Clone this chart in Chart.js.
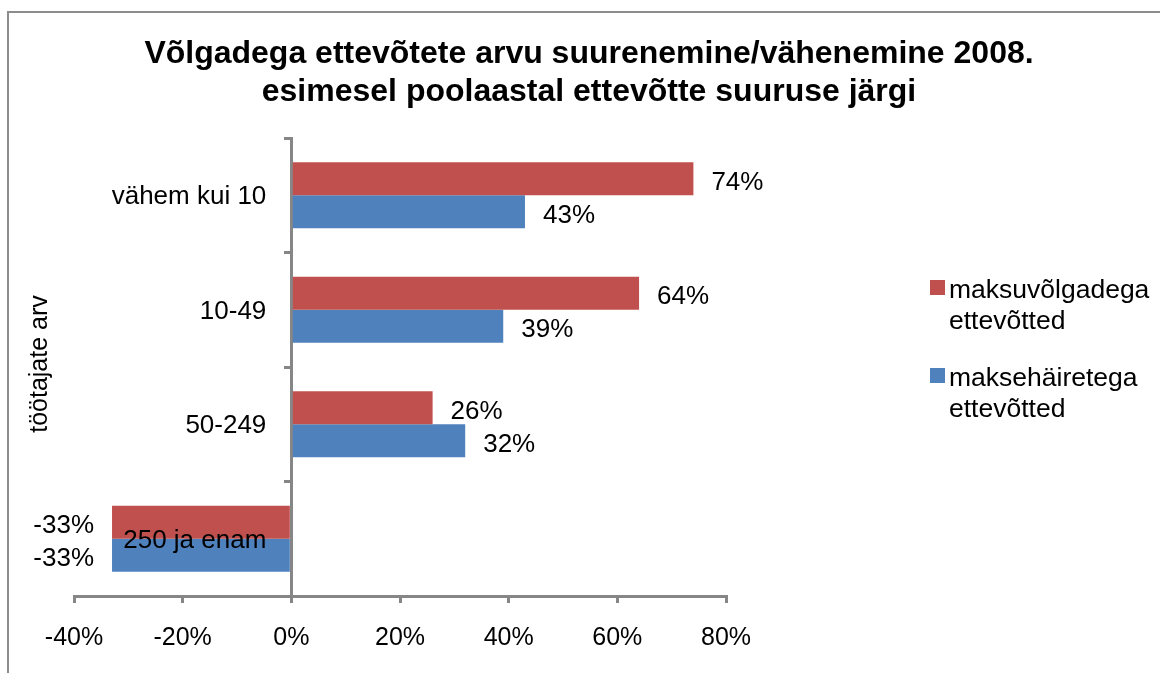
<!DOCTYPE html>
<html>
<head>
    <title>Võlgadega ettevõtete arvu suurenemine/vähenemine</title>
    <script src="https://cdn.jsdelivr.net/npm/chart.js@4.4.0/dist/chart.umd.min.js"></script>
    <style>
        html, body { margin: 0; padding: 0; background: #fff; overflow: hidden; }
        #box {
            position: absolute; left: 7px; top: 11px;
            width: 1160px; height: 660px;
            border-left: 2px solid #8c8c8c; border-top: 2px solid #8c8c8c;
        }
    </style>
</head>
<body>
    <div id="box"><canvas id="chart"></canvas></div>
    <script>
        const categories = ['vähem kui 10', '10-49', '50-249', '250 ja enam'];
        const maksuvolg = [74, 64, 26, -33];    // maksuvõlgadega ettevõtted
        const maksehaire = [43, 39, 32, -33];   // maksehäiretega ettevõtted
        const seriesNames = [['maksuvõlgadega', 'ettevõtted'], ['maksehäiretega', 'ettevõtted']];
        const titleLines = ['Võlgadega ettevõtete arvu suurenemine/vähenemine 2008.', 'esimesel poolaastal ettevõtte suuruse järgi'];
        const axisTitle = 'töötajate arv';

        const RED = '#C0504D';
        const BLUE = '#4F81BD';
        const AXIS = '#868686';
        const FONT = '"Liberation Sans", Arial, sans-serif';

        // title, category labels, y axis title, legend and value labels
        const extras = {
            id: 'extras',
            afterDatasetsDraw(chart) {
                const ctx = chart.ctx;
                const area = chart.chartArea;
                const xs = chart.scales.x;
                const ys = chart.scales.y;
                ctx.save();
                ctx.fillStyle = '#000';

                ctx.font = 'bold 32px ' + FONT;
                ctx.textAlign = 'center';
                ctx.textBaseline = 'middle';
                ctx.fillText(titleLines[0], chart.width / 2, 41);
                ctx.fillText(titleLines[1], chart.width / 2, 79);

                // category labels sit left of the zero line, on top of the bars
                ctx.font = '26px ' + FONT;
                ctx.textAlign = 'right';
                const zeroX = xs.getPixelForValue(0);
                categories.forEach((c, i) => {
                    ctx.fillText(c, zeroX - 25, ys.getPixelForTick(i) + 2);
                });

                chart.data.datasets.forEach((ds, i) => {
                    chart.getDatasetMeta(i).data.forEach((bar, j) => {
                        const v = ds.data[j];
                        if (v >= 0) {
                            ctx.textAlign = 'left';
                            ctx.fillText(v + '%', bar.x + 18, bar.y + 4);
                        } else {
                            ctx.textAlign = 'right';
                            ctx.fillText(v + '%', bar.x - 18, bar.y + 4);
                        }
                    });
                });

                ctx.font = '25px ' + FONT;
                ctx.save();
                ctx.translate(31, (area.top + area.bottom) / 2 - 3);
                ctx.rotate(-Math.PI / 2);
                ctx.textAlign = 'center';
                ctx.fillText(axisTitle, 0, 0);
                ctx.restore();

                const lx = area.right + 204;
                const colors = [RED, BLUE];
                ctx.font = '26.5px ' + FONT;
                ctx.textAlign = 'left';
                seriesNames.forEach((lines, i) => {
                    const y = 267 + i * 88;
                    ctx.fillStyle = colors[i];
                    ctx.fillRect(lx, y, 15, 15);
                    ctx.fillStyle = '#000';
                    lines.forEach((t, k) => ctx.fillText(t, lx + 19, y + 11 + k * 31));
                });
                ctx.restore();
            }
        };

        new Chart(document.getElementById('chart'), {
            type: 'bar',
            data: {
                labels: categories,
                datasets: [
                    { label: seriesNames[0].join(' '), data: maksuvolg, backgroundColor: RED },
                    { label: seriesNames[1].join(' '), data: maksehaire, backgroundColor: BLUE }
                ]
            },
            options: {
                indexAxis: 'y',
                responsive: true,
                maintainAspectRatio: false,
                animation: false,
                categoryPercentage: 0.575,
                barPercentage: 1.0,
                layout: { padding: { left: 65, right: 443, top: 125, bottom: 0 } },
                plugins: {
                    legend: { display: false },
                    title: { display: false },
                    tooltip: { enabled: false }
                },
                scales: {
                    x: {
                        min: -40,
                        max: 80,
                        ticks: {
                            stepSize: 20,
                            padding: 20,
                            color: '#000',
                            font: { family: FONT, size: 25 },
                            callback: v => v + '%'
                        },
                        grid: { drawOnChartArea: false, drawTicks: true, tickLength: 7, color: AXIS, lineWidth: 3 },
                        border: { color: AXIS, width: 3 }
                    },
                    y: {
                        position: { x: 0 },
                        ticks: { display: false },
                        grid: { drawOnChartArea: false, drawTicks: true, tickLength: 6, color: AXIS, lineWidth: 3 },
                        border: { color: AXIS, width: 3 }
                    }
                }
            },
            plugins: [extras]
        });
    </script>
</body>
</html>
